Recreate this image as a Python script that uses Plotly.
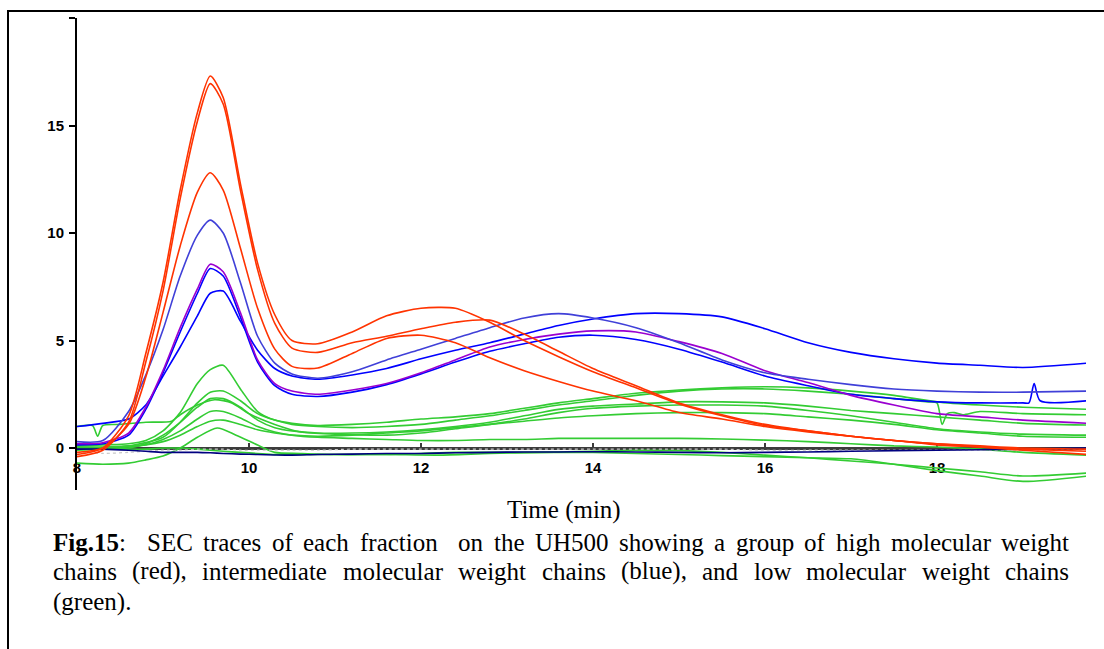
import plotly.graph_objects as go

# ---------------- data ----------------
time = [8.0, 8.3, 8.6, 8.8, 9.0, 9.2, 9.4, 9.55, 9.7, 9.9, 10.1, 10.3, 10.5, 10.8,
        11.2, 11.6, 12.0, 12.4, 12.8, 13.2, 13.6, 14.0, 14.5, 15.0, 15.5, 16.0,
        16.5, 17.0, 17.5, 18.0, 18.5, 19.0, 19.75]

# high molecular weight chains (red)
red_1 = [-0.3, 0.0, 1.5, 4.4, 7.7, 12.0, 15.6, 17.3, 16.3, 12.3, 8.6, 6.2, 5.0, 4.85,
         5.4, 6.15, 6.5, 6.5, 5.85, 5.0, 4.25, 3.55, 2.8, 2.05, 1.5, 1.05,
         0.8, 0.55, 0.35, 0.2, 0.1, 0.0, -0.05]
red_2 = [-0.4, -0.1, 1.2, 4.0, 7.3, 11.6, 15.2, 16.95, 16.0, 12.0, 8.3, 5.8, 4.65, 4.45,
         4.9, 5.2, 5.55, 5.85, 5.95, 5.3, 4.5, 3.7, 2.9, 2.1, 1.55, 1.1,
         0.8, 0.55, 0.35, 0.15, 0.05, -0.05, -0.15]
red_3 = [-0.2, 0.0, 1.1, 3.3, 6.3, 9.4, 11.9, 12.8, 12.0, 9.3, 6.5, 4.6, 3.8, 3.72,
         4.4, 5.1, 5.25, 4.9, 4.2, 3.6, 3.1, 2.65, 2.2, 1.65, 1.35, 1.0,
         0.75, 0.55, 0.35, 0.2, 0.05, -0.1, -0.3]

# intermediate molecular weight chains (blue / purple)
blue_1 = [0.3, 0.35, 1.7, 3.4, 5.5, 8.0, 9.9, 10.6, 10.0, 7.7, 5.2, 3.95, 3.45, 3.25,
          3.55, 4.1, 4.6, 5.1, 5.6, 6.05, 6.25, 6.05, 5.6, 4.9, 4.1, 3.5,
          3.2, 2.95, 2.75, 2.65, 2.6, 2.6, 2.65]
blue_3 = [1.0, 1.15, 1.35, 2.0, 3.35, 4.7, 6.15, 7.2, 7.3, 5.9, 4.55, 3.7, 3.35, 3.2,
          3.4, 3.7, 4.15, 4.55, 4.9, 5.3, 5.7, 6.0, 6.25, 6.25, 6.1, 5.55,
          4.9, 4.45, 4.15, 3.95, 3.85, 3.75, 3.95]
purple = [0.2, 0.25, 0.7, 1.9, 3.6, 5.6, 7.4, 8.55, 8.2, 6.3, 4.1, 3.0, 2.65, 2.5,
          2.7, 3.0, 3.5, 4.1, 4.7, 5.05, 5.3, 5.45, 5.4, 4.95, 4.4, 3.6,
          3.05, 2.45, 2.0, 1.6, 1.45, 1.3, 1.15]
time_b2 = [8.0, 8.3, 8.6, 8.8, 9.0, 9.2, 9.4, 9.55, 9.7, 9.9, 10.1, 10.3, 10.5, 10.8,
           11.2, 11.6, 12.0, 12.4, 12.8, 13.2, 13.6, 14.0, 14.5, 15.0, 15.5, 16.0,
           16.5, 17.0, 17.5, 18.0, 18.5, 19.0, 19.07, 19.13, 19.2, 19.75]
blue_2 = [0.15, 0.2, 0.6, 1.8, 3.5, 5.4, 7.2, 8.35, 8.0, 6.1, 4.0, 2.9, 2.5, 2.4,
          2.6, 2.95, 3.45, 4.0, 4.5, 4.85, 5.15, 5.25, 5.05, 4.6, 4.0, 3.35,
          2.9, 2.5, 2.3, 2.15, 2.1, 2.1, 2.1, 3.0, 2.2, 2.2]

# low molecular weight chains (green)
green_1 = [0.1, 0.15, 0.2, 0.35, 0.8, 1.65, 3.0, 3.65, 3.85, 2.75, 1.7, 1.3, 1.15, 1.05,
           1.1, 1.2, 1.35, 1.45, 1.6, 1.85, 2.1, 2.3, 2.55, 2.7, 2.8, 2.85,
           2.8, 2.65, 2.45, 2.15, 2.0, 1.9, 1.8]
time_g2 = [8.0, 8.6, 9.0, 9.2, 9.4, 9.55, 9.7, 9.9, 10.1, 10.3, 10.5, 10.8, 11.2, 11.6,
           12.0, 12.4, 12.8, 13.2, 13.6, 14.0, 14.5, 15.0, 15.5, 16.0, 16.5, 17.0,
           17.5, 17.9, 18.0, 18.06, 18.12, 18.2, 18.3, 18.5, 19.0, 19.75]
green_2 = [0.0, 0.1, 0.5, 1.2, 2.1, 2.6, 2.65, 2.2, 1.6, 1.3, 1.1, 1.0, 0.95, 1.0,
           1.1, 1.3, 1.5, 1.75, 2.0, 2.2, 2.45, 2.65, 2.75, 2.75, 2.65, 2.5,
           2.3, 2.15, 2.1, 1.1, 1.6, 1.65, 1.55, 1.7, 1.6, 1.55]
green_3 = [-0.1, -0.05, 0.0, 0.2, 0.6, 1.2, 1.9, 2.3, 2.3, 1.9, 1.3, 0.95, 0.8, 0.7,
           0.7, 0.75, 0.85, 1.0, 1.2, 1.5, 1.8, 1.95, 2.05, 2.15, 2.15, 2.1,
           1.95, 1.75, 1.6, 1.45, 1.3, 1.15, 1.07]
time_g4 = [8.0, 8.18, 8.24, 8.3, 8.5, 8.8, 9.1, 9.2, 9.4, 9.6, 9.8, 10.0, 10.3, 10.6,
           11.0, 11.6, 12.0, 12.4, 12.8, 13.2, 13.6, 14.0, 14.5, 15.0, 15.5, 16.0,
           16.5, 17.0, 17.5, 18.0, 18.5, 19.0, 19.75]
green_4 = [1.0, 1.05, 0.55, 1.05, 1.1, 1.2, 1.25, 1.55, 2.0, 2.25, 2.1, 1.6, 1.1, 0.75,
           0.65, 0.6, 0.7, 0.9, 1.1, 1.35, 1.65, 1.85, 1.95, 2.0, 2.0, 1.95,
           1.75, 1.5, 1.2, 0.9, 0.75, 0.65, 0.6]
green_5 = [0.0, 0.0, 0.05, 0.15, 0.4, 0.8, 1.35, 1.7, 1.7, 1.4, 1.0, 0.75, 0.6, 0.5,
           0.45, 0.4, 0.35, 0.35, 0.4, 0.4, 0.45, 0.45, 0.45, 0.45, 0.42, 0.37,
           0.3, 0.2, 0.1, 0.05, -0.05, -0.2, -0.33]
green_6 = [0.05, 0.05, 0.1, 0.15, 0.3, 0.6, 1.0, 1.25, 1.3, 1.1, 0.85, 0.7, 0.6, 0.55,
           0.6, 0.7, 0.8, 0.95, 1.1, 1.25, 1.4, 1.5, 1.6, 1.65, 1.65, 1.6,
           1.45, 1.3, 1.1, 0.85, 0.7, 0.55, 0.5]
time_g7 = [8.0, 8.3, 8.6, 8.8, 9.0, 9.2, 9.4, 9.63, 9.85, 10.1, 10.3, 10.6, 11.0, 11.6,
           12.2, 12.8, 13.4, 14.0, 14.5, 15.0, 15.5, 16.0, 16.5, 17.0, 17.5, 18.0,
           18.5, 19.0, 19.75]
green_7 = [-0.7, -0.75, -0.7, -0.55, -0.37, 0.0, 0.5, 0.93, 0.6, 0.14, -0.2, -0.25, -0.3, -0.3,
           -0.33, -0.25, -0.2, -0.15, -0.1, -0.12, -0.2, -0.33, -0.45, -0.6, -0.75, -0.93,
           -1.1, -1.3, -1.16]
green_8 = [0.05, 0.0, -0.05, -0.05, 0.0, 0.0, -0.05, -0.1, -0.15, -0.2, -0.25, -0.3, -0.3, -0.3,
           -0.3, -0.3, -0.25, -0.2, -0.2, -0.2, -0.2, -0.2, -0.25, -0.3, -0.35, -0.4,
           -0.45, -0.5, -0.75, -1.05, -1.3, -1.55, -1.3]

# baseline-like traces
navy = [-0.05, -0.05, -0.1, -0.15, -0.2, -0.2, -0.2, -0.22, -0.25, -0.28, -0.3, -0.32, -0.33, -0.3,
        -0.28, -0.25, -0.25, -0.22, -0.2, -0.18, -0.18, -0.17, -0.18, -0.2, -0.22, -0.2,
        -0.18, -0.15, -0.12, -0.1, -0.08, -0.05, 0.0]
light_gray = [-0.2, -0.25, -0.2, -0.15, -0.1, -0.1, -0.05, -0.05, -0.05, -0.1, -0.1, -0.1, -0.1, -0.1,
              -0.05, -0.05, -0.05, -0.05, -0.05, -0.05, -0.05, -0.05, -0.05, -0.05, -0.05, -0.1,
              -0.1, -0.1, -0.1, -0.1, -0.1, -0.1, -0.1]

x_ticks = [8, 10, 12, 14, 16, 18]
y_ticks = [0, 5, 10, 15, 20]
y_tick_text = ["0", "5", "10", "15", ""]

x_title = "Time (min)"
caption_line1 = ["<b>Fig.15</b>:", "", "SEC", "traces", "of", "each", "fraction", "", "on", "the",
                 "UH500", "showing", "a", "group", "of", "high", "molecular", "weight"]
caption_line2 = ["chains", "(red),", "intermediate", "molecular", "weight", "chains", "(blue),",
                 "and", "low", "molecular", "weight", "chains"]
caption_line3 = "(green)."

# ---------------- colours ----------------
RED = "#ff3300"
SLATE = "#4040d8"
BLUE = "#0000ff"
PURPLE = "#9a00d0"
GREEN = "#33cc33"
NAVY = "#000080"

fig = go.Figure()


def add(x, y, color, width=1.6, dash="solid"):
    fig.add_trace(go.Scatter(x=x, y=y, mode="lines",
                             line=dict(color=color, width=width, shape="spline",
                                       smoothing=0.7, dash=dash),
                             hoverinfo="skip"))


add(time, green_8, GREEN)
add(time_g7, green_7, GREEN)
add(time, green_6, GREEN)
add(time, green_5, GREEN)
add(time_g4, green_4, GREEN)
add(time, green_3, GREEN)
add(time_g2, green_2, GREEN)
add(time, green_1, GREEN)
add(time, light_gray, "#c8c8c8", 1.2, "dot")
add(time, navy, NAVY)
add(time, blue_3, BLUE)
add(time_b2, blue_2, BLUE)
add(time, purple, PURPLE)
add(time, blue_1, SLATE)
add(time, red_3, RED)
add(time, red_2, RED)
add(time, red_1, RED)

# ---------------- layout ----------------
W, H = 1104, 649
ML, MR, MT, MB = 77, 18, 18, 159
PW, PH = W - ML - MR, H - MT - MB
Y_MIN, Y_MAX = -1.95, 20.0
X_MIN, X_MAX = 8.0, 19.733


def px(xp):
    return (xp - ML) / PW


def py(yp):
    return (H - MB - yp) / PH


tick_font = dict(family="Liberation Sans", size=15, color="black", weight="bold")

fig.update_layout(
    width=W, height=H,
    margin=dict(l=ML, r=MR, t=MT, b=MB),
    paper_bgcolor="white", plot_bgcolor="white",
    showlegend=False,
    xaxis=dict(range=[X_MIN, X_MAX], anchor="free",
               position=(0 - Y_MIN) / (Y_MAX - Y_MIN),
               showline=True, linecolor="#3c3c3c", linewidth=2.5,
               ticks="inside", ticklen=4, tickwidth=1.5, tickcolor="#3c3c3c",
               tickvals=x_ticks, tickfont=tick_font, ticklabelstandoff=5,
               showgrid=False, zeroline=False, layer="below traces"),
    yaxis=dict(range=[Y_MIN, Y_MAX], anchor="x",
               showline=True, linecolor="black", linewidth=2,
               ticks="outside", ticklen=6, tickwidth=1.5, tickcolor="black",
               tickvals=y_ticks, ticktext=y_tick_text, tickfont=tick_font,
               ticklabelstandoff=2,
               showgrid=False, zeroline=False),
)

# outer frame (left and top edges visible)
fig.add_shape(type="rect", xref="paper", yref="paper",
              x0=px(8), x1=1.3, y0=-0.6, y1=py(11),
              line=dict(color="black", width=2), fillcolor="rgba(0,0,0,0)")

# ---------------- captions ----------------
SERIF = "Liberation Serif"
annotations = []
annotations.append(dict(text=x_title, x=px(564), y=py(510), xref="paper", yref="paper",
                        showarrow=False, xanchor="center", yanchor="middle", borderpad=0,
                        font=dict(family=SERIF, size=25, color="black")))

W_REG = {' ': 250, '(': 333, ')': 333, ',': 250, '.': 250, ':': 278, '0': 500, '1': 500,
         '5': 500, 'a': 444, 'b': 500, 'c': 444, 'd': 500, 'e': 444, 'f': 333, 'g': 500,
         'h': 500, 'i': 278, 'l': 278, 'm': 778, 'n': 500, 'o': 500, 'p': 500, 'r': 333,
         's': 389, 't': 278, 'u': 500, 'w': 722, 'C': 667, 'E': 611, 'H': 722, 'S': 556,
         'U': 722, 'v': 500, 'y': 500, 'k': 500}
W_BOLD = {'F': 611, 'i': 278, 'g': 500, '.': 250, '1': 500, '5': 500}

CAP_SIZE = 25
LEFT, RIGHT = 52, 1068


def word_width(w):
    if w.startswith("<b>"):
        bold = w[3:w.index("</b>")]
        rest = w[w.index("</b>") + 4:]
        units = sum(W_BOLD.get(c, 500) for c in bold) + sum(W_REG.get(c, 500) for c in rest)
    else:
        units = sum(W_REG.get(c, 500) for c in w)
    return units * CAP_SIZE / 1000.0


def justify(words, ycenter):
    # empty strings mark an extra space (double space)
    real = []
    gaps = []
    pending = 0
    for w in words:
        if w == "":
            pending += 1
            continue
        if real:
            gaps.append(1 + pending)
        pending = 0
        real.append(w)
    total_w = sum(word_width(w) for w in real)
    gap_unit = (RIGHT - LEFT - total_w) / sum(gaps)
    xcur = LEFT
    for i, w in enumerate(real):
        annotations.append(dict(text=w, x=px(xcur), y=py(ycenter), xref="paper", yref="paper",
                                showarrow=False, xanchor="left", yanchor="middle", borderpad=0,
                                font=dict(family=SERIF, size=CAP_SIZE, color="black")))
        if i < len(gaps):
            xcur += word_width(w) + gaps[i] * gap_unit


justify(caption_line1, 542)
justify(caption_line2, 571)
annotations.append(dict(text=caption_line3, x=px(LEFT), y=py(602), xref="paper", yref="paper",
                        showarrow=False, xanchor="left", yanchor="middle", borderpad=0,
                        font=dict(family=SERIF, size=CAP_SIZE, color="black")))

fig.update_layout(annotations=annotations)

fig.write_html("out.html")
